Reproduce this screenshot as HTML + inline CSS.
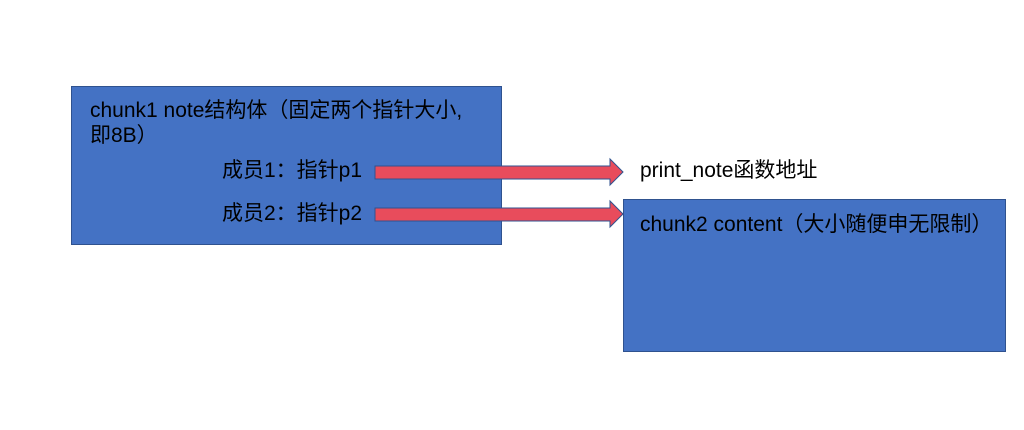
<!DOCTYPE html>
<html><head><meta charset="utf-8"><style>
body{margin:0;width:1024px;height:430px;background:#fff;position:relative;overflow:hidden;font-family:"Liberation Sans","Noto Sans CJK SC",sans-serif;}
.box{position:absolute;background:#4472C4;border:1px solid #2F528F;box-sizing:border-box;}
.t{position:absolute;font-size:21px;color:#000;white-space:nowrap;line-height:24px;}
</style></head><body>
<div class="box" style="left:71px;top:86px;width:431px;height:159px"></div>
<div class="box" style="left:623px;top:199px;width:383px;height:153px"></div>
<div class="t" style="left:90px;top:99px">chunk1 note结构体（固定两个指针大小,</div>
<div class="t" style="left:90px;top:124px">即8B）</div>
<div class="t" style="left:222px;top:159px">成员1：指针p1</div>
<div class="t" style="left:222px;top:202px">成员2：指针p2</div>
<div class="t" style="left:640px;top:159px">print_note函数地址</div>
<div class="t" style="left:640px;top:213px">chunk2 content（大小随便申无限制）</div>
<svg width="1024" height="430" style="position:absolute;left:0;top:0">
<polygon points="375,166 610,166 610,159 623,172 610,185 610,179 375,179" fill="#E84C5C" stroke="#2F528F" stroke-width="1"/>
<polygon points="375,208 610,208 610,201 623,214 610,227 610,221 375,221" fill="#E84C5C" stroke="#2F528F" stroke-width="1"/>
</svg>
</body></html>
